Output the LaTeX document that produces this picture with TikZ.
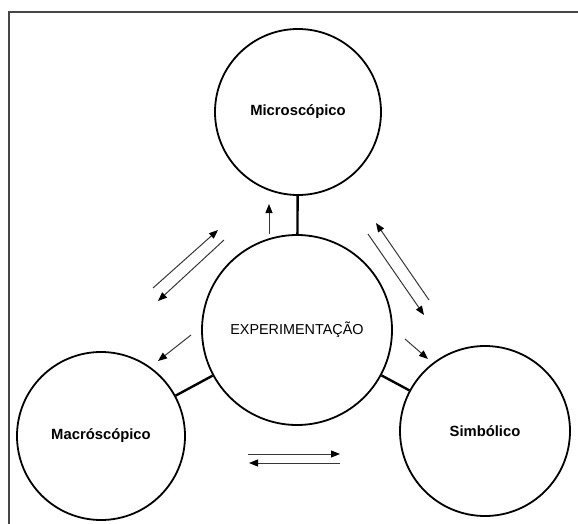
\documentclass[tikz,border=0pt]{standalone}
\usepackage{fontspec}
\setmainfont{Liberation Sans}
\usetikzlibrary{arrows.meta}
\definecolor{framegray}{RGB}{70,70,70}
\definecolor{arrgray}{RGB}{55,55,55}
\tikzset{
    area/.style={
        circle,
        draw=black,
        fill=white,
        line width=1.8pt,
        inner sep=0pt,
        font=\fontsize{14.8}{17}\selectfont\bfseries
    },
    link/.style={line width=2.4pt,black},
    arr/.style={-{Triangle[length=9pt,width=7pt,color=black]},line width=1pt,arrgray}
}

\begin{document}
\begin{tikzpicture}[x=1pt,y=-1pt]
\useasboundingbox (0,0) rectangle (578,524);
\fill[white] (0,0) rectangle (578,524);
\draw[framegray,line width=1.5pt] (9,524) -- (9,12) -- (578,12);
% the four circles
\node[area,minimum size=166pt] (micro) at (298,112) {Microsc\'opico};
\node[area,minimum size=190pt,font=\fontsize{14.4}{17}\selectfont] (exp) at (297,330) {EXPERIMENTA\c{C}\~AO};
\node[area,minimum size=168pt] (macro) at (101,436) {Macr\'osc\'opico};
\node[area,minimum size=170pt] (simb) at (485,431) {Simb\'olico};
% links to the centre
\draw[link] (micro) -- (exp);
\draw[link] (macro) -- (exp);
\draw[link] (simb) -- (exp);
% arrows
\draw[arr] (269,234) -- (269,204);
\draw[arr] (153,288) -- (218,230);
\draw[arr] (224,240) -- (158,301);
\draw[arr] (429,300) -- (376,223);
\draw[arr] (368,234) -- (424,315);
\draw[arr] (405,339) -- (428,359);
\draw[arr] (191,335) -- (158,361);
\draw[arr] (248,454) -- (340,454);
\draw[arr] (340,463) -- (249,463);
\end{tikzpicture}
\end{document}
